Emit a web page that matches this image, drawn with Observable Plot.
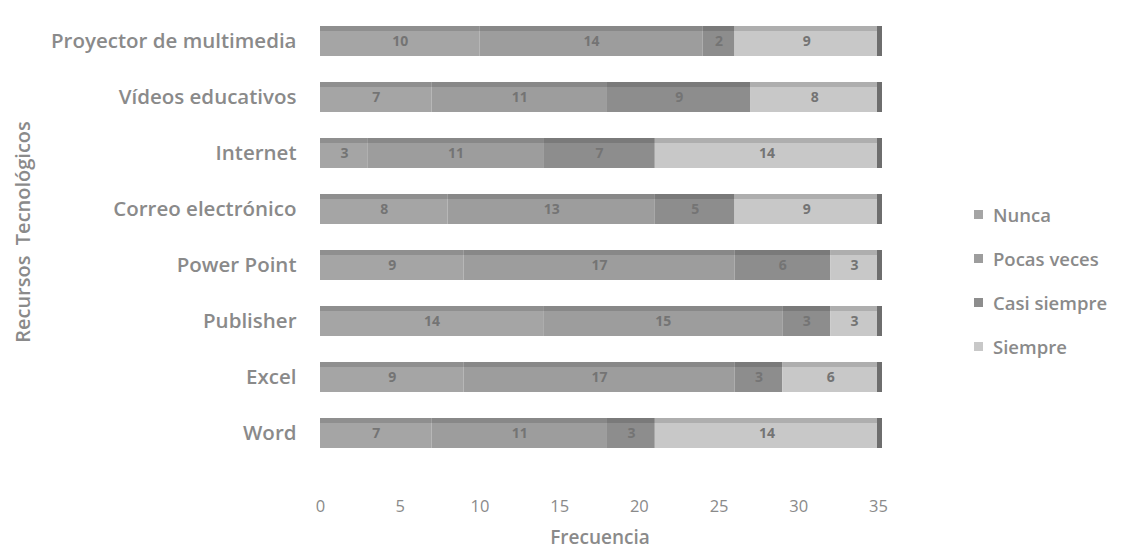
<!DOCTYPE html>
<html>
<head>
<meta charset="utf-8">
<script src="https://cdn.jsdelivr.net/npm/d3@7"></script>
<script src="https://cdn.jsdelivr.net/npm/@observablehq/plot@0.6"></script>
<style>
  html, body { margin: 0; padding: 0; background: #fff; }
  #wrap { position: relative; width: 1129px; height: 552px; font-family: "Open Sans", sans-serif; }
  .ytitle { position: absolute; left: 22px; top: 232px; transform: translate(-50%, -50%) rotate(-90deg); font-size: 20px; font-weight: 600; color: #8a8a8a; white-space: pre; }
  .xtitle { position: absolute; left: 600px; top: 537px; transform: translate(-50%, -50%); font-size: 19px; font-weight: 600; color: #8a8a8a; }
  .legend { position: absolute; left: 974px; top: 192px; font-size: 18.5px; font-weight: 600; color: #8a8a8a; }
  .legend div { height: 44px; display: flex; align-items: center; }
  .legend span.sw { display: inline-block; width: 9px; height: 9px; margin-right: 10px; }
</style>
</head>
<body>
<div id="wrap"></div>
<script>
const categories = ["Proyector de multimedia", "Vídeos educativos", "Internet", "Correo electrónico", "Power Point", "Publisher", "Excel", "Word"];
const seriesNames = ["Nunca", "Pocas veces", "Casi siempre", "Siempre"];
const nunca       = [10, 7, 3, 8, 9, 14, 9, 7];
const pocasVeces  = [14, 11, 11, 13, 17, 15, 17, 11];
const casiSiempre = [2, 9, 7, 5, 6, 3, 3, 3];
const siempre     = [9, 8, 14, 9, 3, 3, 6, 14];
const xTicks = [0, 5, 10, 15, 20, 25, 30, 35];
const colors = ["#a5a5a5", "#9d9d9d", "#8d8d8d", "#c8c8c8"];

const seriesValues = [nunca, pocasVeces, casiSiempre, siempre];
const data = [];
categories.forEach((c, i) => {
  seriesNames.forEach((s, j) => data.push({cat: c, series: s, value: seriesValues[j][i]}));
});
const totals = categories.map((c, i) => ({cat: c, total: seriesValues.reduce((a, arr) => a + arr[i], 0)}));

const stackOpts = {x: "value", y: "cat", z: "series", order: seriesNames};

const plot = Plot.plot({
  width: 1129,
  height: 552,
  marginLeft: 320,
  marginRight: 251,
  marginTop: 0,
  marginBottom: 60,
  style: {background: "#fff", fontFamily: "Open Sans, sans-serif"},
  x: {domain: [0, 35], ticks: xTicks, label: null},
  y: {domain: categories, range: [-4, 478], padding: 0.47, label: null},
  color: {domain: seriesNames, range: colors},
  marks: [
    Plot.barX(data, Plot.stackX({...stackOpts, fill: "series"})),
    // darker top face strip (3D look)
    Plot.barX(totals, {x: "total", y: "cat", fill: "#000", fillOpacity: 0.13, insetBottom: 25}),
    // right side cap
    Plot.tickX(totals, {x: "total", y: "cat", stroke: "#6e6e6e", strokeWidth: 5, dx: 1}),
    Plot.text(data, Plot.stackX({...stackOpts, text: "value", fill: "#747474", fontSize: 14, fontWeight: 700})),
    Plot.axisX({ticks: xTicks, tickSize: 0, tickPadding: 8, fontSize: 16.5, fill: "#8a8a8a", stroke: "none", label: null}),
    Plot.axisY({tickSize: 0, tickPadding: 24, fontSize: 20.5, fontWeight: 600, fill: "#8a8a8a", label: null})
  ]
});

const wrap = document.getElementById("wrap");
wrap.appendChild(plot);
plot.style.position = "absolute";
plot.style.left = "0px";
plot.style.top = "0px";

const yt = document.createElement("div");
yt.className = "ytitle";
yt.textContent = "Recursos  Tecnológicos";
wrap.appendChild(yt);

const xt = document.createElement("div");
xt.className = "xtitle";
xt.textContent = "Frecuencia";
wrap.appendChild(xt);

const lg = document.createElement("div");
lg.className = "legend";
seriesNames.forEach((s, j) => {
  const row = document.createElement("div");
  const sw = document.createElement("span");
  sw.className = "sw";
  sw.style.background = colors[j];
  row.appendChild(sw);
  row.appendChild(document.createTextNode(s));
  lg.appendChild(row);
});
wrap.appendChild(lg);
</script>
</body>
</html>
